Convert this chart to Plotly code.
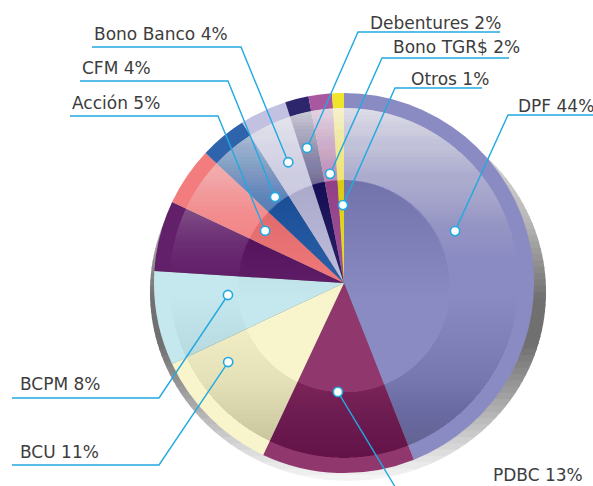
import math
import plotly.graph_objects as go

# ---------------- data ----------------
labels = ["DPF", "PDBC", "BCU", "BCPM", "(sin etiqueta)", "Acción", "CFM",
          "Bono Banco", "Debentures", "Bono TGR$", "Otros"]
values = [44, 13, 11, 8, 6, 5, 4, 4, 2, 2, 1]
colors = ["#8B8BC4", "#90386D", "#F8F5CC", "#C5E8EE", "#62206A", "#F27C7E",
          "#2F63AC", "#C3C1E1", "#2E266C", "#A9579F", "#F0E52A"]
shown = [True, True, True, True, False, True, True, True, True, True, True]

# ---------------- layout helpers ----------------
W, H = 593, 486
CX, CY, R = 344, 283, 190
R_IN = 175                   # inner edge of the flat outer band
HX, HY, HR = 344, 286, 106   # inner "lens" disk


def px(x):
    return x / W


def py(y):
    return 1 - y / H


# label placement: anchor fraction within slice, radius fraction, elbow, underline end, text pos
label_layout = {
    "DPF":        dict(f=0.41, rf=0.645, elbow=(508, 115), end=600, tx=516, ty=106),
    "PDBC":       dict(f=0.53, rf=0.574, elbow=(403, 500), end=600, tx=491, ty=475),
    "BCU":        dict(f=0.77, rf=0.738, elbow=(159, 465), end=12, tx=18, ty=452),
    "BCPM":       dict(f=0.67, rf=0.614, elbow=(159, 398), end=12, tx=18, ty=384),
    "Acción":     dict(f=0.46, rf=0.498, elbow=(218, 116), end=70, tx=70, ty=103),
    "CFM":        dict(f=0.56, rf=0.580, elbow=(228, 81), end=80, tx=80, ty=68),
    "Bono Banco": dict(f=0.53, rf=0.700, elbow=(241, 47), end=92, tx=92, ty=34),
    "Debentures": dict(f=0.375, rf=0.737, elbow=(358, 32), end=500, tx=368, ty=23),
    "Bono TGR$":  dict(f=0.49, rf=0.579, elbow=(382, 58), end=509, tx=391, ty=47),
    "Otros":      dict(f=0.80, rf=0.410, elbow=(395, 88), end=482, tx=409, ty=79),
}

LINE_C = "#22A9E1"

fig = go.Figure()
fig.add_trace(go.Pie(
    labels=labels, values=values, sort=False, direction="clockwise", rotation=0,
    marker=dict(colors=colors, line=dict(width=0)),
    textinfo="none", hoverinfo="label+percent", showlegend=False,
    domain=dict(x=[px(CX - R), px(CX + R)], y=[py(CY + R), py(CY - R)]),
))

shapes = []


def to_path(pts):
    return "M " + " L ".join(f"{px(x):.5f},{py(y):.5f}" for x, y in pts) + " Z"


def clamp(v, lo=-1.0, hi=1.0):
    return max(lo, min(hi, v))


def cap(yc, sgn, cx, cy, r, hole=None, n=90):
    """Part of circle beyond the line y=yc (sgn=-1: above, +1: below), minus hole."""
    f0 = math.acos(clamp(sgn * (yc - cy) / r))
    pts = []
    for i in range(n + 1):
        f = -f0 + 2 * f0 * i / n
        pts.append((cx + r * math.sin(f), cy + sgn * r * math.cos(f)))
    if hole is not None:
        hx, hy, hr = hole
        if sgn * (yc - hy) < hr:
            p0 = math.acos(clamp(sgn * (yc - hy) / hr))
            for i in range(n + 1):
                p = p0 - 2 * p0 * i / n
                pts.append((hx + hr * math.sin(p), hy + sgn * hr * math.cos(p)))
    return to_path(pts)


def add_caps(cx, cy, r, y_start, y_end, sgn, alpha_fn, rgb, n, hole=None):
    """Stacked caps producing a smooth gradient from y_start (strongest) to y_end."""
    edges = [y_start + (y_end - y_start) * k / n for k in range(n + 1)]
    A = [alpha_fn((edges[k] + edges[k + 1]) / 2) for k in range(n)] + [0.0]
    for k in range(n):
        a = 1 - (1 - A[k]) / (1 - A[k + 1])
        if a <= 0.001:
            continue
        shapes.append(dict(type="path", path=cap(edges[k + 1], sgn, cx, cy, r, hole),
                           xref="paper", yref="paper", layer="above",
                           fillcolor=f"rgba({rgb},{a:.4f})", line=dict(width=0)))


# ---- shadow behind the pie (opaque overlapping bands) ----
SX, SY, SRX, SRY = 348, 292, 198, 189
gstops = [(100, 235), (220, 185), (300, 112), (345, 112), (400, 165), (450, 218), (482, 248)]


def gray_at(y):
    if y <= gstops[0][0]:
        return gstops[0][1]
    for (ya, ga), (yb, gb) in zip(gstops, gstops[1:]):
        if y <= yb:
            return ga + (gb - ga) * (y - ya) / (yb - ya)
    return gstops[-1][1]


NS = 60
for i in range(NS):
    y0 = SY - SRY + 2 * SRY * i / NS
    y1 = min(SY - SRY + 2 * SRY * (i + 1) / NS + 1.5, SY + SRY)
    g = int(gray_at((y0 + y1) / 2))
    ys = [y0 + (y1 - y0) * k / 6 for k in range(7)]
    right = [(SX + SRX * math.sqrt(max(0, 1 - ((y - SY) / SRY) ** 2)), y) for y in ys]
    left = [(SX - SRX * math.sqrt(max(0, 1 - ((y - SY) / SRY) ** 2)), y) for y in ys[::-1]]
    shapes.append(dict(type="path", path=to_path(right + left), xref="paper", yref="paper",
                       layer="below", fillcolor=f"rgb({g},{g},{g})", line=dict(width=0)))

# ---- gloss (top, white) and shade (bottom, black) over pie interior ----
add_caps(CX, CY, R_IN, CY - R_IN, CY, -1,
         lambda y: 0.85 * max(0.0, (CY - y) / R_IN) ** 1.5, "255,255,255", 50,
         hole=(HX, HY, HR))
add_caps(CX, CY, R_IN, CY + R_IN, CY, +1,
         lambda y: 0.19 * max(0.0, (y - CY) / R_IN) ** 1.5, "0,0,0", 40,
         hole=(HX, HY, HR))


# ---- lens disk: dark at top, light at bottom ----
LENS_TOP, LENS_SLOPE = 0.095, 0.085


def lens_v(y):
    t = (y - HY) / HR
    return LENS_TOP - LENS_SLOPE * (t + 1)


y_mid = HY + HR * (LENS_TOP / LENS_SLOPE - 1)
add_caps(HX, HY, HR, HY - HR, y_mid, -1, lambda y: max(0.0, lens_v(y)), "0,0,0", 24)
add_caps(HX, HY, HR, HY + HR, y_mid, +1, lambda y: max(0.0, -lens_v(y)), "255,255,255", 16)

# ---- leader lines, dots and labels ----
total = sum(values)
annotations = []
cum = 0.0
dots = []
for lab, val, show in zip(labels, values, shown):
    a0 = cum / total * 360
    a1 = (cum + val) / total * 360
    cum += val
    if not show:
        continue
    L = label_layout[lab]
    th = math.radians(a0 + (a1 - a0) * L["f"])
    r = R * L["rf"]
    dx, dy = CX + r * math.sin(th), CY - r * math.cos(th)
    ex, ey = L["elbow"]
    d = f"M {px(dx):.5f},{py(dy):.5f} L {px(ex):.5f},{py(ey):.5f} L {px(L['end']):.5f},{py(ey):.5f}"
    shapes.append(dict(type="path", path=d, xref="paper", yref="paper", layer="above",
                       line=dict(color=LINE_C, width=1.4)))
    dots.append((dx, dy))
    annotations.append(dict(text=f"{lab} {val}%", x=px(L["tx"]), y=py(L["ty"]),
                            xref="paper", yref="paper", xanchor="left", yanchor="middle",
                            showarrow=False,
                            font=dict(family="DejaVu Sans", size=17, color="#3d3d3d")))

for dx, dy in dots:
    rr = 4.6
    shapes.append(dict(type="circle", xref="paper", yref="paper", layer="above",
                       x0=px(dx - rr), x1=px(dx + rr), y0=py(dy + rr), y1=py(dy - rr),
                       fillcolor="white", line=dict(color=LINE_C, width=1.6)))

fig.update_layout(
    width=W, height=H, margin=dict(l=0, r=0, t=0, b=0),
    paper_bgcolor="white", plot_bgcolor="rgba(0,0,0,0)",
    shapes=shapes, annotations=annotations, showlegend=False,
)

fig.write_html("out.html")
